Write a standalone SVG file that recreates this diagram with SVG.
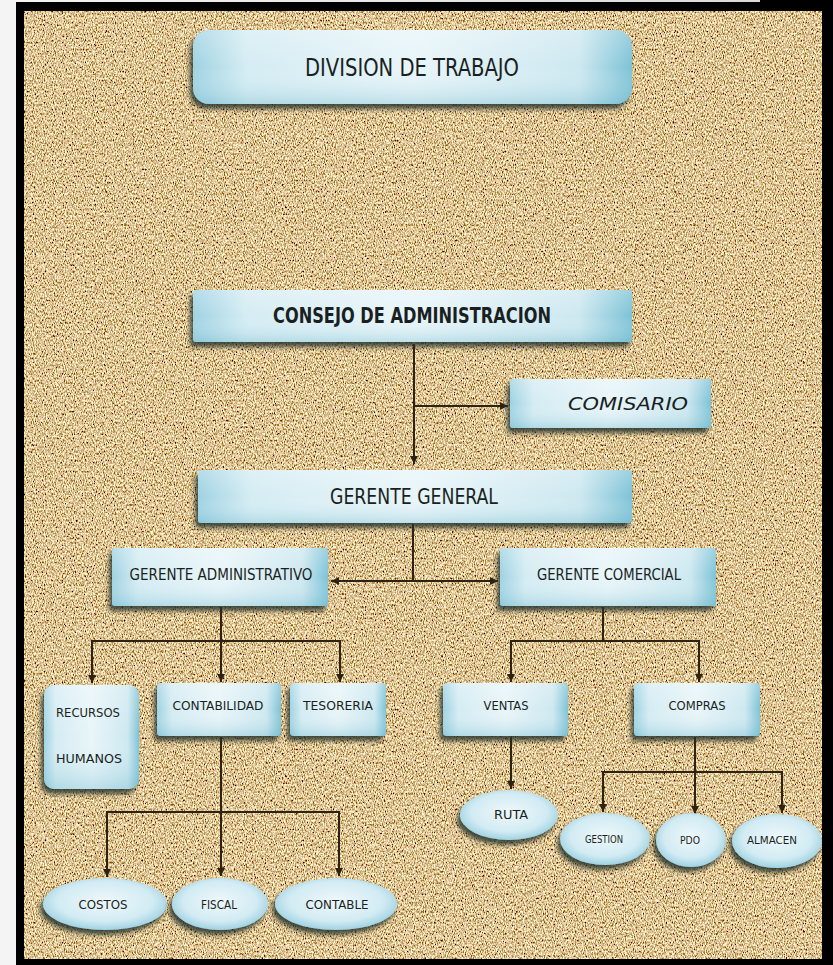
<svg xmlns="http://www.w3.org/2000/svg" width="833" height="965" viewBox="0 0 833 965">
<defs>
  <linearGradient id="page" x1="0" y1="0" x2="1" y2="0">
    <stop offset="0" stop-color="#f4f4f4"/>
    <stop offset="1" stop-color="#d8d8d8"/>
  </linearGradient>
  <filter id="sand" x="0" y="0" width="1" height="1">
    <feTurbulence type="fractalNoise" baseFrequency="0.9 0.45" numOctaves="3" seed="7" result="n"/>
    <feColorMatrix in="n" type="matrix" values="2.0 0 0 0 -0.27  2.0 0 0 0 -0.44  1.6 0 0 0 -0.48  0 0 0 0 1"/>
  </filter>
  <linearGradient id="boxH" x1="0" y1="0" x2="1" y2="0">
    <stop offset="0" stop-color="#9ed2e2"/>
    <stop offset="0.12" stop-color="#d4ecf3"/>
    <stop offset="0.5" stop-color="#e8f5f9"/>
    <stop offset="0.88" stop-color="#cde8f0"/>
    <stop offset="1" stop-color="#7cc2d6"/>
  </linearGradient>
  <linearGradient id="boxV" x1="0" y1="0" x2="0" y2="1">
    <stop offset="0" stop-color="#ffffff" stop-opacity="0.25"/>
    <stop offset="0.5" stop-color="#ffffff" stop-opacity="0"/>
    <stop offset="1" stop-color="#6fb8cc" stop-opacity="0.35"/>
  </linearGradient>
  <radialGradient id="ell" cx="0.5" cy="0.45" r="0.55">
    <stop offset="0" stop-color="#eef8fb"/>
    <stop offset="0.7" stop-color="#d2ebf3"/>
    <stop offset="1" stop-color="#9fd2e2"/>
  </radialGradient>
  <filter id="shadow" x="-10%" y="-20%" width="120%" height="150%">
    <feGaussianBlur in="SourceAlpha" stdDeviation="2.5"/>
    <feOffset dx="-3" dy="5" result="b"/>
    <feFlood flood-color="#26342c" flood-opacity="0.85"/>
    <feComposite in2="b" operator="in" result="s"/>
    <feMerge><feMergeNode in="s"/><feMergeNode in="SourceGraphic"/></feMerge>
  </filter>
  <marker id="arr" viewBox="0 0 8 8" refX="8" refY="4" markerWidth="8" markerHeight="8" markerUnits="userSpaceOnUse" orient="auto">
    <path d="M0,0 L8,4 L0,8 z" fill="#2e2214"/>
  </marker>
</defs>
<style>
  .box { fill: url(#boxH); filter: url(#shadow); }
  .gloss { fill: url(#boxV); }
  .ell { fill: url(#ell); filter: url(#shadow); }
  .t { font-family: "Liberation Sans Narrow", "DejaVu Sans Condensed", "Liberation Sans", sans-serif; fill: #1a1f22; text-anchor: middle; dominant-baseline: central; }
  .ln { fill: none; stroke: #2e2214; stroke-width: 2; }
  .ar { fill: none; stroke: #2e2214; stroke-width: 2; marker-end: url(#arr); }
</style>

<!-- page and frame -->
<rect x="0" y="0" width="833" height="965" fill="url(#page)"/>
<rect x="16" y="2" width="817" height="963" fill="#000"/>
<rect x="760" y="0" width="73" height="3" fill="#000"/>
<rect x="24" y="11" width="798" height="948" filter="url(#sand)"/>

<g id="connectors">
  <path class="ar" d="M414 344 V464"/>
  <path class="ar" d="M414 406 H508"/>
  <path class="ln" d="M413 524 V581"/>
  <path class="ar" d="M413 581 H331"/>
  <path class="ar" d="M413 581 H498"/>
  <path class="ln" d="M221 607 V641 M91 641 H341"/>
  <path class="ar" d="M92 641 V683"/>
  <path class="ar" d="M221 641 V682"/>
  <path class="ar" d="M340 641 V682"/>
  <path class="ln" d="M603 607 V641 M510 641 H700"/>
  <path class="ar" d="M511 641 V682"/>
  <path class="ar" d="M699 641 V682"/>
  <path class="ln" d="M221 737 V812 M106 812 H340"/>
  <path class="ar" d="M107 812 V877"/>
  <path class="ar" d="M221 812 V876"/>
  <path class="ar" d="M339 812 V876"/>
  <path class="ar" d="M511 737 V789"/>
  <path class="ln" d="M695 737 V772 M602 772 H783"/>
  <path class="ar" d="M603 772 V812"/>
  <path class="ar" d="M695 772 V814"/>
  <path class="ar" d="M782 772 V813"/>
</g>

<g id="division">
  <rect class="box" x="193" y="30" width="439" height="74" rx="16"/>
  <rect class="gloss" x="193" y="30" width="439" height="74" rx="16"/>
  <text class="t" x="412" y="68" font-size="24" textLength="214" lengthAdjust="spacingAndGlyphs">DIVISION DE TRABAJO</text>
</g>

<g id="consejo">
  <rect class="box" x="193" y="290" width="439" height="52" rx="3"/>
  <rect class="gloss" x="193" y="290" width="439" height="52" rx="3"/>
  <text class="t" x="412" y="316" font-size="21" font-weight="bold" textLength="278" lengthAdjust="spacingAndGlyphs">CONSEJO DE ADMINISTRACION</text>
</g>

<g id="comisario">
  <rect class="box" x="510" y="379" width="201" height="49" rx="3"/>
  <rect class="gloss" x="510" y="379" width="201" height="49" rx="3"/>
  <text class="t" x="628" y="404" font-size="17" font-style="italic" textLength="120" lengthAdjust="spacingAndGlyphs">COMISARIO</text>
</g>

<g id="gerente-general">
  <rect class="box" x="198" y="470" width="434" height="53" rx="3"/>
  <rect class="gloss" x="198" y="470" width="434" height="53" rx="3"/>
  <text class="t" x="414" y="497" font-size="21" textLength="168" lengthAdjust="spacingAndGlyphs">GERENTE GENERAL</text>
</g>

<g id="gerente-administrativo">
  <rect class="box" x="112" y="548" width="216" height="58" rx="3"/>
  <rect class="gloss" x="112" y="548" width="216" height="58" rx="3"/>
  <text class="t" x="221" y="574" font-size="16" textLength="183" lengthAdjust="spacingAndGlyphs">GERENTE ADMINISTRATIVO</text>
</g>

<g id="gerente-comercial">
  <rect class="box" x="500" y="548" width="216" height="58" rx="3"/>
  <rect class="gloss" x="500" y="548" width="216" height="58" rx="3"/>
  <text class="t" x="609" y="574" font-size="16" textLength="144" lengthAdjust="spacingAndGlyphs">GERENTE COMERCIAL</text>
</g>

<g id="recursos-humanos">
  <rect class="box" x="44" y="685" width="95" height="104" rx="10"/>
  <rect class="gloss" x="44" y="685" width="95" height="104" rx="10"/>
  <text class="t" x="88" y="712" font-size="13" textLength="64" lengthAdjust="spacingAndGlyphs">RECURSOS</text>
  <text class="t" x="89" y="758" font-size="13" textLength="66" lengthAdjust="spacingAndGlyphs">HUMANOS</text>
</g>

<g id="contabilidad">
  <rect class="box" x="157" y="683" width="124" height="53" rx="4"/>
  <rect class="gloss" x="157" y="683" width="124" height="53" rx="4"/>
  <text class="t" x="218" y="705" font-size="13" textLength="91" lengthAdjust="spacingAndGlyphs">CONTABILIDAD</text>
</g>

<g id="tesoreria">
  <rect class="box" x="290" y="683" width="96" height="53" rx="4"/>
  <rect class="gloss" x="290" y="683" width="96" height="53" rx="4"/>
  <text class="t" x="338" y="705" font-size="13" textLength="70" lengthAdjust="spacingAndGlyphs">TESORERIA</text>
</g>

<g id="ventas">
  <rect class="box" x="443" y="683" width="125" height="53" rx="4"/>
  <rect class="gloss" x="443" y="683" width="125" height="53" rx="4"/>
  <text class="t" x="506" y="705" font-size="13" textLength="45" lengthAdjust="spacingAndGlyphs">VENTAS</text>
</g>

<g id="compras">
  <rect class="box" x="634" y="683" width="126" height="53" rx="4"/>
  <rect class="gloss" x="634" y="683" width="126" height="53" rx="4"/>
  <text class="t" x="697" y="705" font-size="13" textLength="57" lengthAdjust="spacingAndGlyphs">COMPRAS</text>
</g>

<g id="ruta">
  <ellipse class="ell" cx="509" cy="815" rx="49" ry="25"/>
  <text class="t" x="511" y="815" font-size="12" textLength="34" lengthAdjust="spacingAndGlyphs">RUTA</text>
</g>

<g id="gestion">
  <ellipse class="ell" cx="605" cy="839" rx="45" ry="26"/>
  <text class="t" x="604" y="839" font-size="10" textLength="38" lengthAdjust="spacingAndGlyphs">GESTION</text>
</g>

<g id="pdo">
  <ellipse class="ell" cx="691" cy="840" rx="35" ry="27"/>
  <text class="t" x="690" y="840" font-size="10" textLength="20" lengthAdjust="spacingAndGlyphs">PDO</text>
</g>

<g id="almacen">
  <ellipse class="ell" cx="777" cy="841" rx="45" ry="27"/>
  <text class="t" x="772" y="840" font-size="10" textLength="50" lengthAdjust="spacingAndGlyphs">ALMACEN</text>
</g>

<g id="costos">
  <ellipse class="ell" cx="105" cy="904" rx="62" ry="26"/>
  <text class="t" x="103" y="904" font-size="13" textLength="49" lengthAdjust="spacingAndGlyphs">COSTOS</text>
</g>

<g id="fiscal">
  <ellipse class="ell" cx="220" cy="904" rx="48" ry="26"/>
  <text class="t" x="219" y="904" font-size="13" textLength="36" lengthAdjust="spacingAndGlyphs">FISCAL</text>
</g>

<g id="contable">
  <ellipse class="ell" cx="336" cy="904" rx="61" ry="26"/>
  <text class="t" x="337" y="904" font-size="13" textLength="63" lengthAdjust="spacingAndGlyphs">CONTABLE</text>
</g>
</svg>
